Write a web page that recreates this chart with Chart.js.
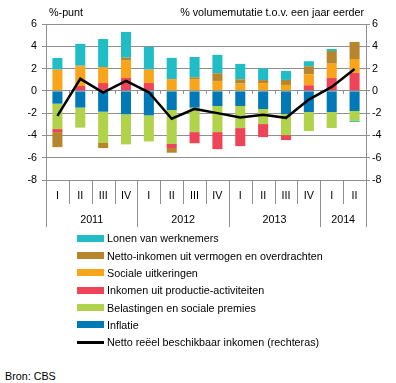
<!DOCTYPE html>
<html>
<head>
<meta charset="utf-8">
<script src="https://cdn.jsdelivr.net/npm/chart.js@4.4.1/dist/chart.umd.min.js"></script>
<style>
  body { margin:0; width:396px; height:383px; position:relative; background:#fff; overflow:hidden;
         font-family:"Liberation Sans", Arial, sans-serif; font-size:10.75px; color:#000; }
  #chart { position:absolute; left:0; top:0; }
  .row { position:absolute; left:77px; height:14px; display:flex; align-items:center; white-space:nowrap; }
  .row .sw { width:27px; height:7px; margin-right:3px; }
  .row .ln { width:27px; height:3px; margin-right:3px; background:#000; }
  #bron { position:absolute; left:5px; top:369px; line-height:14px; }
</style>
</head>
<body>
<canvas id="chart" width="396" height="232"></canvas>
<div id="legend"></div>
<div id="bron">Bron: CBS</div>
<script>
// kwartalen en jaren
const quarters = ["I","II","III","IV","I","II","III","IV","I","II","III","IV","I","II"];
const yearOf   = ["2011","2011","2011","2011","2012","2012","2012","2012","2013","2013","2013","2013","2014","2014"];

// bijdragen in %-punt (stapelvolgorde vanaf nul)
const inflatie     = [-1.15,-1.5,-1.87,-2.1,-2.2,-1.72,-1.5,-1.36,-1.36,-1.63,-2.08,-1.9,-1.9,-1.81];
const belastingen  = [-2.28,-1.8,-2.81,-2.7,-2.34,-3.05,-2.2,-2.34,-1.98,-1.35,-1.89,-1.71,-1.44,-0.9];
const productie    = [-0.27,0.44,0.7,1.15,0.7,-0.36,-1.0,-1.53,-1.62,-1.17,-0.45,0.5,1.15,1.6];
const uitkeringen  = [1.9,1.74,1.44,1.56,1.2,1.06,1.06,0.89,0.65,0.7,0.53,0.99,1.29,1.26];
const vermogen     = [-1.35,0.09,-0.45,0.27,0,-0.42,0.15,0.69,0.39,0.27,0.45,0.72,1.14,1.53];
const lonen        = [1.05,1.95,2.51,2.31,2.04,1.9,1.83,1.65,1.38,1.05,0.81,0.45,0.18,-0.08];

// netto reeel beschikbaar inkomen, % volumemutatie (rechteras)
const nettoInkomen = [-2.25,1.08,-0.16,0.9,-0.13,-2.5,-1.62,-2.0,-2.4,-2.15,-2.42,-0.78,0.35,1.97];

const axisTicks = [-8,-6,-4,-2,0,2,4,6];

const FONT = '"Liberation Sans", Arial, sans-serif';
const FSIZE = 10.75;
const GRID = '#8f8f8f';

const bar = (label, data, color) => ({
  type: 'bar', label, data, backgroundColor: color, yAxisID: 'y', order: 1,
  categoryPercentage: 1, barPercentage: 0.44, borderWidth: 0
});

const datasets = [
  bar('Inflatie', inflatie, '#0079b6'),
  bar('Belastingen en sociale premies', belastingen, '#b1d34b'),
  bar('Inkomen uit productie-activiteiten', productie, '#ef4458'),
  bar('Sociale uitkeringen', uitkeringen, '#f8a51b'),
  bar('Netto-inkomen uit vermogen en overdrachten', vermogen, '#b8852f'),
  bar('Lonen van werknemers', lonen, '#20bdc7'),
  {
    type: 'line', label: 'Netto reëel beschikbaar inkomen (rechteras)', data: nettoInkomen,
    yAxisID: 'y1', order: 0, borderColor: '#000', borderWidth: 2.5, pointRadius: 0, tension: 0, fill: false
  }
];

const decor = {
  id: 'decor',
  beforeDatasetsDraw(chart) {
    // kleine streepjes onder de nullijn
    const { ctx } = chart;
    const x = chart.scales.x, y = chart.scales.y;
    const y0 = y.getPixelForValue(0);
    ctx.save();
    ctx.strokeStyle = GRID; ctx.lineWidth = 1;
    for (let i = 1; i < quarters.length; i++) {
      const px = Math.round(x.getPixelForValue(i - 0.5)) + 0.5;
      ctx.beginPath(); ctx.moveTo(px, y0); ctx.lineTo(px, y0 + 3); ctx.stroke();
    }
    ctx.restore();
  },
  afterDraw(chart) {
    const { ctx, chartArea } = chart;
    const x = chart.scales.x;
    ctx.save();
    ctx.font = FSIZE + 'px ' + FONT;
    ctx.fillStyle = '#000';
    ctx.textBaseline = 'middle';
    ctx.textAlign = 'left';
    ctx.fillText('%-punt', 49, 13);
    ctx.textAlign = 'right';
    ctx.fillText('% volumemutatie t.o.v. een jaar eerder', 364, 13);

    // scheidingslijnen kwartalen / jaren
    ctx.strokeStyle = GRID; ctx.lineWidth = 1;
    const n = quarters.length;
    let start = 0;
    for (let i = 0; i <= n; i++) {
      const px = Math.round(x.getPixelForValue(i - 0.5)) + 0.5;
      const isYear = i === 0 || i === n || yearOf[i] !== yearOf[i - 1];
      ctx.beginPath();
      ctx.moveTo(px, chartArea.bottom);
      ctx.lineTo(px, isYear ? 227 : 204);
      ctx.stroke();
      if (isYear && i > 0) {
        const mid = (x.getPixelForValue(start - 0.5) + x.getPixelForValue(i - 0.5)) / 2;
        ctx.textAlign = 'center';
        ctx.fillText(yearOf[i - 1], mid, 220);
        start = i;
      }
    }
    ctx.restore();
  }
};

const yAxis = (position, onArea, width) => ({
  type: 'linear', position, min: -8, max: 6,
  afterBuildTicks: s => { s.ticks = axisTicks.map(v => ({ value: v })); },
  afterFit: s => { s.width = width; },
  grid: { color: GRID, lineWidth: 1, drawOnChartArea: onArea, drawTicks: true, tickLength: 4, tickColor: GRID },
  border: { color: GRID, width: 1 },
  ticks: { color: '#000', font: { size: FSIZE, family: FONT }, padding: position === 'left' ? 5 : 2 }
});

new Chart(document.getElementById('chart'), {
  data: { labels: quarters, datasets },
  options: {
    responsive: false,
    animation: false,
    layout: { padding: { top: 24, left: 0, right: 0, bottom: 0 } },
    plugins: { legend: { display: false }, tooltip: { enabled: false }, title: { display: false } },
    scales: {
      x: {
        stacked: true, offset: true,
        afterFit: s => { s.height = 52; },
        grid: { display: false, drawTicks: false },
        border: { display: false },
        ticks: { color: '#000', font: { size: FSIZE, family: FONT }, padding: 10, autoSkip: false, maxRotation: 0 }
      },
      y: { ...yAxis('left', true, 46), stacked: true },
      y1: yAxis('right', false, 30)
    }
  },
  plugins: [decor]
});

// legenda (omgekeerde volgorde, lijn als laatste)
const legend = document.getElementById('legend');
const items = datasets.filter(d => d.type === 'bar').reverse().concat(datasets.filter(d => d.type === 'line'));
items.forEach((d, i) => {
  const row = document.createElement('div');
  row.className = 'row';
  row.style.top = (231.3 + i * 17.3) + 'px';
  const sw = document.createElement('span');
  if (d.type === 'bar') { sw.className = 'sw'; sw.style.background = d.backgroundColor; }
  else sw.className = 'ln';
  row.appendChild(sw);
  row.appendChild(document.createTextNode(d.label));
  legend.appendChild(row);
});
</script>
</body>
</html>
